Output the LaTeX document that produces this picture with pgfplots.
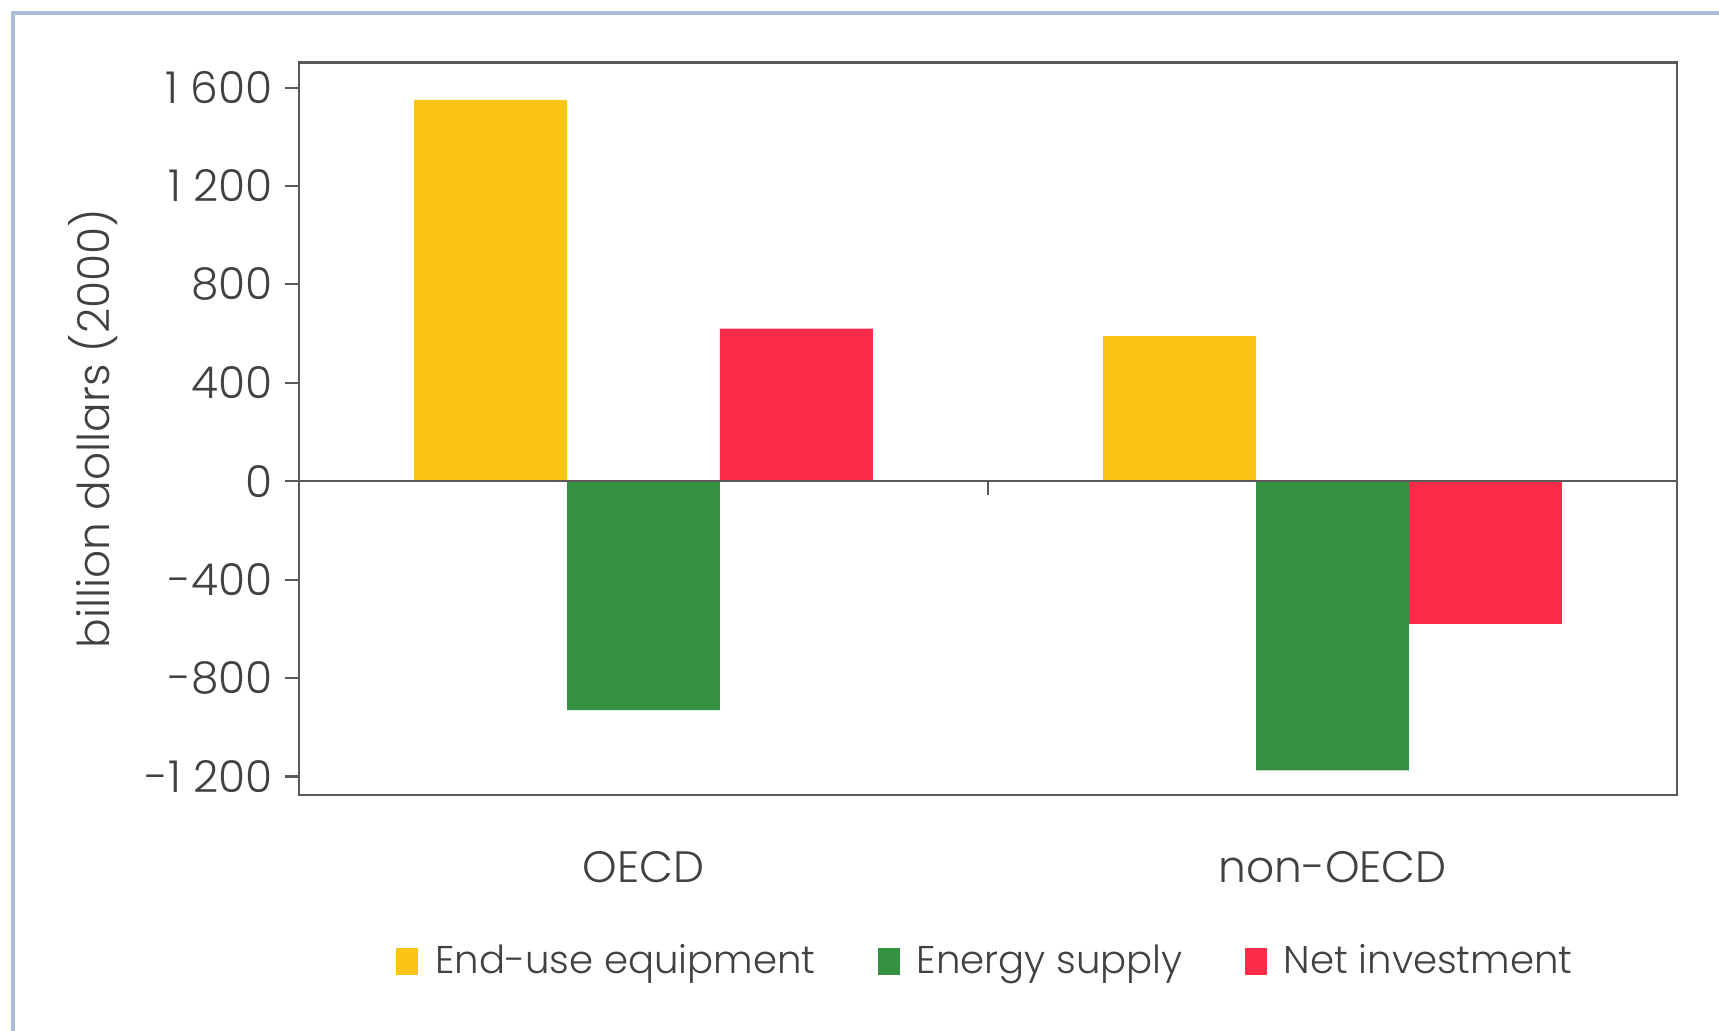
\documentclass[border=0pt]{standalone}
\usepackage{fontspec}
\setmainfont{Poppins}[UprightFont={* Light}]
\usepackage{pgfplots}
\usepackage{pgfplotstable}
\pgfplotsset{compat=1.18}

\definecolor{enduse}{RGB}{253,196,24}
\definecolor{supply}{RGB}{52,145,66}
\definecolor{netinv}{RGB}{253,44,72}
\definecolor{axisgray}{RGB}{90,90,90}
\definecolor{txtgray}{RGB}{65,65,65}
\definecolor{framecol}{RGB}{170,192,218}

% billion dollars (2000)
\pgfplotstableread{
x enduse supply net
0 1550  -930   620
1 590   -1175  -580
}\invtable

\begin{document}
\begin{tikzpicture}[font=\fontsize{12.5}{15}\selectfont]
\useasboundingbox (0,0) rectangle (17.19cm,10.31cm);
\draw[framecol, line width=1pt] (0.13cm,-1cm) -- (0.13cm,10.18cm) -- (18cm,10.18cm);
\begin{axis}[
    at={(2.99cm,2.36cm)}, anchor=south west,
    width=13.78cm, height=7.325cm, scale only axis,
    xmin=-0.5, xmax=1.5, ymin=-1275, ymax=1702,
    ybar, bar width=0.222,
    xtick={0,1}, xticklabels={OECD,non-OECD},
    xtick style={draw=none},
    x tick label style={anchor=base, yshift=-7.4mm},
    ytick={-1200,-800,-400,0,400,800,1200,1600},
    yticklabels={{-1\ 200},-800,-400,0,400,800,{1\ 200},{1\ 600}},
    ytick pos=left,
    tick align=outside, major tick length=1.4mm,
    axis line style={draw=axisgray, line width=0.6pt},
    tick style={axisgray, line width=0.6pt},
    ticklabel style={text=txtgray},
    ylabel={billion dollars (2000)},
    ylabel style={at={(axis description cs:-0.1495,0.5)}, anchor=center, text=txtgray},
    legend style={at={(axis description cs:0.5,-0.228)}, anchor=center,
        draw=none, fill=none, text=txtgray, legend columns=3,
        font=\fontsize{11}{13}\selectfont,
        /tikz/every even column/.style={column sep=5.5mm}},
    legend image code/.code={\fill[#1] (0mm,-1.3mm) rectangle (2.2mm,1.4mm);
        \path (3.2mm,0mm);},
]
\addplot[fill=enduse, draw=none, bar shift=-0.222] table[x=x, y=enduse] {\invtable};
\addlegendentry{End-use equipment}
\addplot[fill=supply, draw=none, bar shift=0] table[x=x, y=supply] {\invtable};
\addlegendentry{Energy supply}
\addplot[fill=netinv, draw=none, bar shift=0.222] table[x=x, y=net] {\invtable};
\addlegendentry{Net investment}
\draw[axisgray, line width=0.6pt] (axis cs:-0.5,0) -- (axis cs:1.5,0);
\draw[axisgray, line width=0.6pt] (axis cs:0.5,0) -- ([yshift=-1.4mm]axis cs:0.5,0);
\end{axis}
\end{tikzpicture}
\end{document}
